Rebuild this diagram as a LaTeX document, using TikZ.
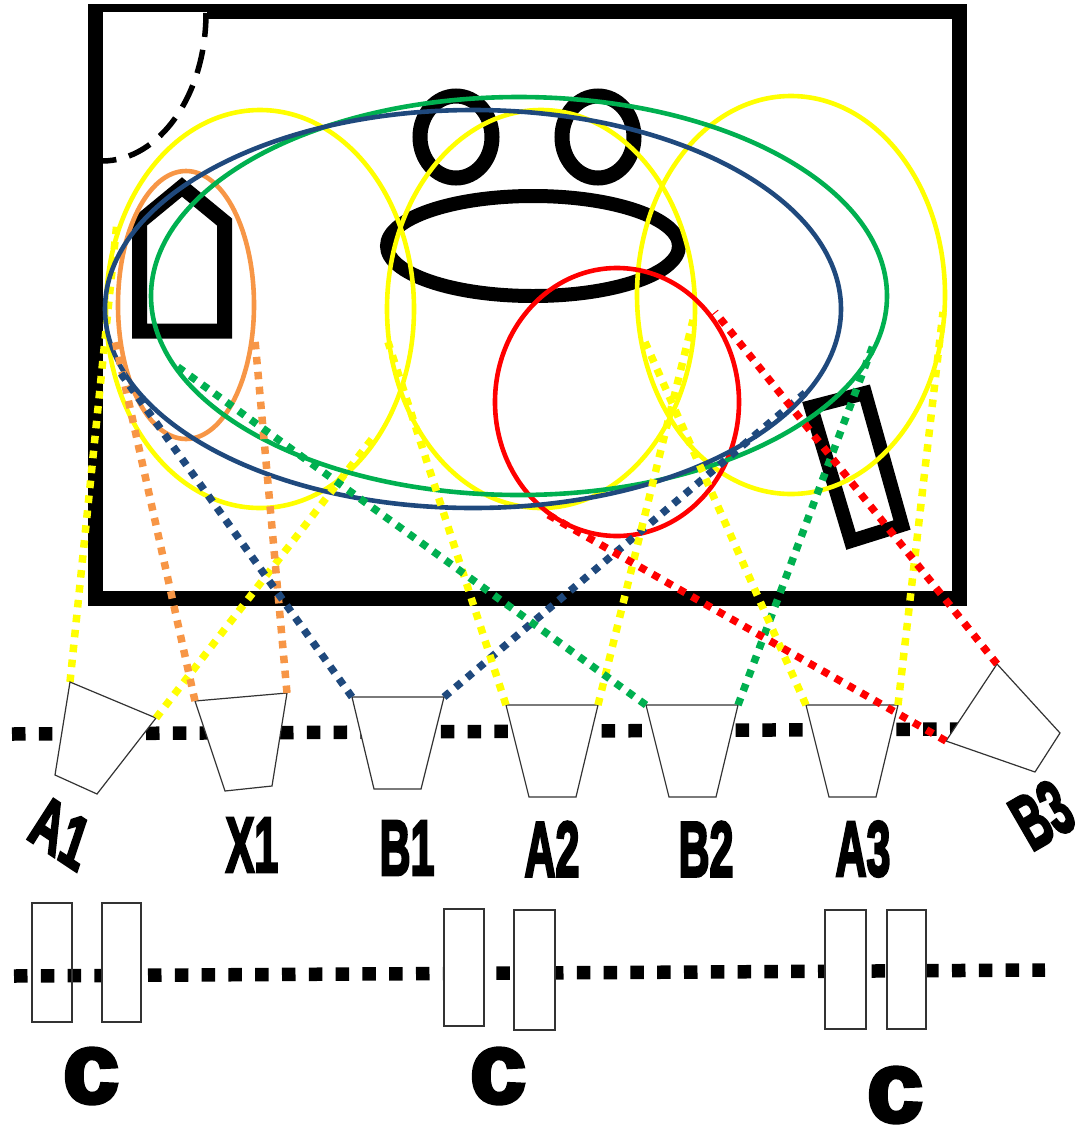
\documentclass[tikz,border=0pt]{standalone}
\usepackage{fontspec}
\newfontfamily\lab[UprightFont={* Bold},FakeBold=4]{Liberation Sans}
\newfontfamily\labc[UprightFont={* Bold},FakeBold=4.5]{Liberation Sans}
\definecolor{cyel}{HTML}{FFFF00}
\definecolor{cora}{HTML}{F79646}
\definecolor{cblu}{HTML}{1F497D}
\definecolor{cgrn}{HTML}{00B050}
\definecolor{cred}{HTML}{FF0000}
\tikzset{
  ring/.style={line width=4.6pt},
  heavy/.style={line width=15pt,line join=miter},
  beam/.style={line width=13.5pt,dash pattern=on 13.5pt off 13.3pt},
  ray/.style={line width=7.5pt,dash pattern=on 7.5pt off 7.5pt},
  cup/.style={draw=black!80,line width=1.2pt,fill=white,line join=miter},
  lbl/.style={inner sep=0pt,text=black,font=\lab\fontsize{78}{78}\selectfont,xscale=.55},
  clbl/.style={inner sep=0pt,text=black,font=\labc\fontsize{100}{100}\selectfont},
}
\begin{document}
\begin{tikzpicture}[x=1pt,y=-1pt]
\useasboundingbox (0,0) rectangle (1081,1128);
% room
\draw[heavy] (95.5,11.5) rectangle (959.5,598);
\fill[white] (103,12) rectangle (207,19);
\draw[black,line width=5.5pt,dash pattern=on 24pt off 13pt] (206,13) arc[start angle=0,end angle=90,x radius=104,y radius=148];
% fixtures
\draw[heavy] (139.5,331) -- (224.5,331) -- (224.5,222) -- (182,187) -- (139.5,222) -- cycle;
\draw[heavy] (456,137) ellipse[x radius=36,y radius=41];
\draw[heavy] (598,137) ellipse[x radius=36,y radius=41];
\draw[heavy,line width=14pt] (533,246) ellipse[x radius=146,y radius=50];
\draw[heavy,line width=14pt] (811,407) -- (865,393) -- (902,525) -- (851,541) -- cycle;
% camera corner points
\coordinate (a1l) at (70,682); \coordinate (a1r) at (156,718);
\coordinate (x1l) at (195,701); \coordinate (x1r) at (287,693);
\coordinate (b1l) at (352,697); \coordinate (b1r) at (444,697);
\coordinate (a2l) at (506,705); \coordinate (a2r) at (598,705);
\coordinate (b2l) at (646,705); \coordinate (b2r) at (738,705);
\coordinate (a3l) at (806,705); \coordinate (a3r) at (898,705);
\coordinate (b3t) at (997,664); \coordinate (b3l) at (946,741);
% far end of the first ray, partly under the ellipses
\coordinate (e1) at (117,222);
\draw[ray,cyel] (a1l) -- (e1);
% coverage ellipses
\draw[ring,cyel] (260,309) ellipse[x radius=154,y radius=199];
\draw[ring,cyel] (541,309) ellipse[x radius=154,y radius=199];
\draw[ring,cyel] (791,295) ellipse[x radius=154,y radius=199];
\draw[ring,cora] (186,305) ellipse[x radius=68,y radius=134];
\draw[ring,cred] (617,402) ellipse[x radius=122,y radius=134];
\draw[ring,cgrn] (519,296) ellipse[x radius=368,y radius=199];
\draw[ring,cblu] (473,309) ellipse[x radius=368,y radius=199];
% beams
\coordinate (r1a) at (12,734); \coordinate (r1b) at (960,729);
\coordinate (r2a) at (14,976); \coordinate (r2b) at (1045,970);
\draw[beam] (r1a) -- (r1b);
\draw[beam] (r2a) -- (r2b);
% cameras
\draw[cup] (a1l) -- (a1r) -- (97,794) -- (55,775) -- cycle;
\draw[cup] (x1l) -- (x1r) -- (272,786) -- (225,791) -- cycle;
\draw[cup] (b1l) -- (b1r) -- (421,789) -- (374,789) -- cycle;
\draw[cup] (a2l) -- (a2r) -- (576,797) -- (529,797) -- cycle;
\draw[cup] (b2l) -- (b2r) -- (716,797) -- (669,797) -- cycle;
\draw[cup] (a3l) -- (a3r) -- (876,797) -- (829,797) -- cycle;
\draw[cup] (b3t) -- (1060,733) -- (1035,772) -- (b3l) -- cycle;
% controllers
\draw[cup,fill=none] (32,903) rectangle (72,1022);
\draw[cup] (102,903) rectangle (141,1022);
\draw[cup] (444,909) rectangle (484,1026);
\draw[cup] (514,910) rectangle (555,1030);
\draw[cup] (825,910) rectangle (866,1029);
\draw[cup] (887,910) rectangle (926,1029);
% rays
\coordinate (e2) at (375,435);
\coordinate (e3) at (115,340); \coordinate (e4) at (255,340);
\coordinate (e5) at (120,372); \coordinate (e6) at (805,393);
\coordinate (e7) at (388,342); \coordinate (e8) at (693,320);
\coordinate (e9) at (175,365); \coordinate (e10) at (875,340);
\coordinate (e11) at (645,342); \coordinate (e12) at (943,312);
\coordinate (e13) at (715,312); \coordinate (e14) at (545,513);
\draw[ray,cyel] (a1r) -- (e2);
\draw[ray,cora] (x1l) -- (e3);
\draw[ray,cora] (x1r) -- (e4);
\draw[ray,cblu] (b1l) -- (e5);
\draw[ray,cblu] (b1r) -- (e6);
\draw[ray,cyel] (a2l) -- (e7);
\draw[ray,cyel] (a2r) -- (e8);
\draw[ray,cgrn] (b2l) -- (e9);
\draw[ray,cgrn] (b2r) -- (e10);
\draw[ray,cyel] (a3l) -- (e11);
\draw[ray,cyel] (a3r) -- (e12);
\draw[ray,cred] (b3t) -- (e13);
\draw[ray,cred] (b3l) -- (e14);
% labels
\node[lbl,rotate=-20,xslant=.2] (la1) at (60,832) {A1};
\node[lbl] (lx1) at (252,845) {X1};
\node[lbl] (lb1) at (407,848) {B1};
\node[lbl] (la2) at (552,849) {A2};
\node[lbl] (lb2) at (706,849) {B2};
\node[lbl] (la3) at (863,849) {A3};
\node[rotate=30,lbl] (lb3) at (1042,815) {B3};
\node[clbl] (lc1) at (91,1076) {c};
\node[clbl] (lc2) at (498,1076) {c};
\node[clbl] (lc3) at (895,1095) {c};
\end{tikzpicture}
\end{document}
